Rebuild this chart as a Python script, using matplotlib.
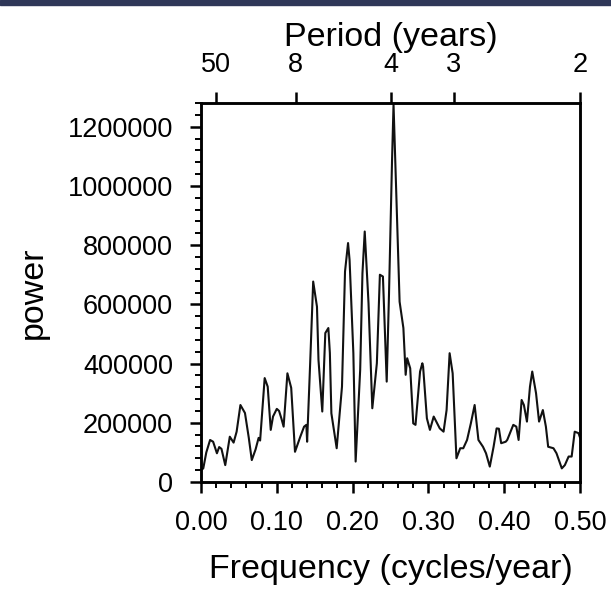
import matplotlib
matplotlib.use('Agg')
import matplotlib.pyplot as plt
from matplotlib.patches import Rectangle
from matplotlib.ticker import MultipleLocator

plt.rcParams['font.family'] = ['Liberation Sans', 'DejaVu Sans']

# frequency (cycles/year) and power
freq = [0.000, 0.003, 0.007, 0.012, 0.016, 0.021, 0.024, 0.027, 0.032, 0.038,
        0.043, 0.047, 0.052, 0.058, 0.063, 0.067, 0.072, 0.076, 0.078, 0.084,
        0.088, 0.092, 0.095, 0.100, 0.103, 0.106, 0.109, 0.114, 0.119, 0.124,
        0.131, 0.136, 0.139, 0.140, 0.144, 0.148, 0.153, 0.155, 0.160, 0.164,
        0.168, 0.170, 0.172, 0.179, 0.186, 0.190, 0.194, 0.196, 0.201, 0.204,
        0.210, 0.213, 0.216, 0.221, 0.226, 0.232, 0.236, 0.240, 0.245, 0.248,
        0.252, 0.254, 0.257, 0.262, 0.267, 0.270, 0.272, 0.276, 0.280, 0.283,
        0.289, 0.292, 0.293, 0.298, 0.302, 0.307, 0.315, 0.320, 0.324, 0.328,
        0.332, 0.337, 0.342, 0.346, 0.351, 0.356, 0.361, 0.366, 0.372, 0.376,
        0.381, 0.386, 0.390, 0.393, 0.396, 0.402, 0.404, 0.412, 0.416, 0.419,
        0.423, 0.426, 0.430, 0.434, 0.437, 0.442, 0.446, 0.451, 0.455, 0.458,
        0.465, 0.469, 0.476, 0.480, 0.485, 0.489, 0.493, 0.498, 0.500]
power = [40000, 46000, 100000, 142000, 136000, 97000, 118000, 112000, 57000, 153000,
         133000, 170000, 260000, 233000, 150000, 74000, 110000, 149000, 140000, 351000,
         322000, 176000, 221000, 247000, 240000, 215000, 187000, 367000, 318000, 102000,
         153000, 187000, 193000, 136000, 400000, 677000, 592000, 412000, 238000, 503000,
         520000, 436000, 232000, 114000, 322000, 711000, 807000, 750000, 435000, 69000,
         379000, 705000, 846000, 604000, 249000, 401000, 700000, 694000, 339000, 632000,
         1083000, 1275000, 1026000, 609000, 520000, 362000, 418000, 384000, 198000, 193000,
         373000, 401000, 390000, 215000, 176000, 221000, 181000, 170000, 243000, 435000,
         367000, 80000, 114000, 114000, 142000, 198000, 260000, 142000, 119000, 97000,
         52000, 119000, 181000, 180000, 131000, 136000, 142000, 193000, 187000, 142000,
         277000, 260000, 204000, 322000, 373000, 300000, 204000, 243000, 187000, 119000,
         114000, 97000, 46000, 57000, 86000, 86000, 170000, 165000, 150000]

period_labels = ['50', '8', '4', '3', '2']
periods = [50, 8, 4, 3, 2]

fig = plt.figure(figsize=(6.11, 6.07), dpi=100)
fig.patches.append(Rectangle((0, 1 - 5 / 607), 1, 5 / 607, transform=fig.transFigure,
                             color='#2f3758', zorder=0))
ax = fig.add_axes([201 / 611, 1 - 482 / 607, 379 / 611, 379 / 607])

ax.plot(freq, power, color='#111111', lw=1.5)
ax.set_xlim(0, 0.5)

for s in ax.spines.values():
    s.set_linewidth(1.8)

ax.xaxis.set_major_locator(MultipleLocator(0.1))
ax.xaxis.set_minor_locator(MultipleLocator(0.02))
ax.yaxis.set_major_locator(MultipleLocator(200000))
ax.yaxis.set_minor_locator(MultipleLocator(40000))
ax.set_xticks(ax.get_xticks())
ax.set_xticklabels(['%.2f' % t for t in ax.get_xticks()])
ax.set_yticks(ax.get_yticks())
ax.set_yticklabels(['%d' % t for t in ax.get_yticks()])
ax.set_xlim(0, 0.5)
ax.set_ylim(0, 1280000)
ax.tick_params(which='major', direction='out', length=8, width=1.8, labelsize=19.5)
ax.tick_params(axis='x', pad=12)
ax.tick_params(axis='y', pad=12)
ax.tick_params(which='minor', direction='out', length=4, width=1.4)
ax.tick_params(right=False, top=False, which='both')

ax.set_xlabel('Frequency (cycles/year)', fontsize=24.5, labelpad=13)
ax.set_ylabel('power', fontsize=24.5, labelpad=14)

# period axis on top
top = ax.twiny()
top.set_xlim(0, 0.5)
top.set_xticks([1.0 / p for p in periods])
top.set_xticklabels(period_labels)
top.tick_params(direction='out', length=8, width=1.8, labelsize=19.5, pad=10)
top.set_xlabel('Period (years)', fontsize=24.5, labelpad=4)
for s in top.spines.values():
    s.set_linewidth(1.8)

fig.savefig('out.png', dpi=100)
